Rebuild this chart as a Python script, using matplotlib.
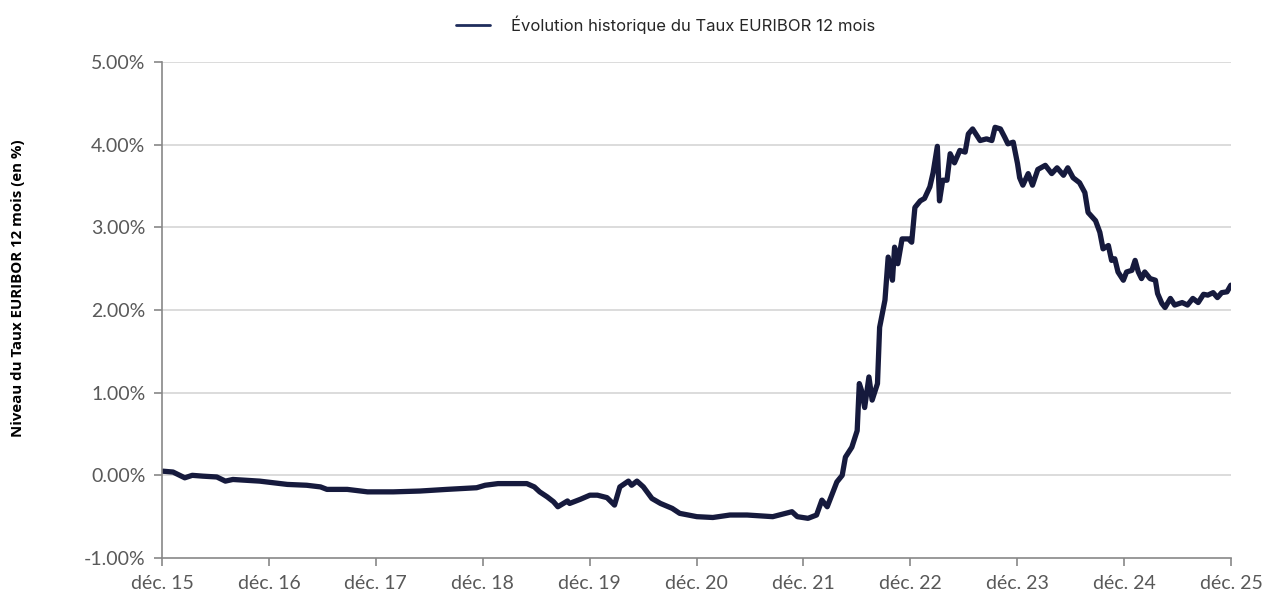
import matplotlib.pyplot as plt
import numpy as np
from matplotlib.ticker import FuncFormatter

# dates as decimal years, values in %
years = [2015.926, 2016.02, 2016.13, 2016.20, 2016.30, 2016.43, 2016.51, 2016.58, 2016.83,
         2017.09, 2017.27, 2017.40, 2017.46, 2017.65, 2017.84, 2018.08, 2018.33, 2018.58,
         2018.86, 2018.94, 2019.06, 2019.20, 2019.33, 2019.40, 2019.45, 2019.52, 2019.58,
         2019.62, 2019.71, 2019.73, 2019.83, 2019.92, 2019.99, 2020.08, 2020.15, 2020.20,
         2020.28, 2020.31, 2020.36, 2020.42, 2020.50, 2020.58, 2020.69, 2020.76, 2020.92,
         2021.07, 2021.23, 2021.39, 2021.63, 2021.81, 2021.86, 2021.96, 2022.04, 2022.09,
         2022.14, 2022.23, 2022.28, 2022.31, 2022.33, 2022.37, 2022.42, 2022.44, 2022.46,
         2022.49, 2022.53, 2022.56, 2022.61, 2022.63, 2022.68, 2022.71, 2022.75, 2022.77,
         2022.80, 2022.84, 2022.90, 2022.93, 2022.96, 2023.01, 2023.05, 2023.10, 2023.13,
         2023.17, 2023.19, 2023.22, 2023.26, 2023.29, 2023.33, 2023.38, 2023.43, 2023.46,
         2023.50, 2023.57, 2023.63, 2023.68, 2023.71, 2023.76, 2023.80, 2023.83, 2023.88,
         2023.92, 2023.94, 2023.97, 2024.02, 2024.06, 2024.11, 2024.18, 2024.24, 2024.29,
         2024.35, 2024.39, 2024.44, 2024.50, 2024.55, 2024.58, 2024.65, 2024.69, 2024.72,
         2024.77, 2024.80, 2024.83, 2024.86, 2024.91, 2024.94, 2024.99, 2025.02, 2025.05,
         2025.08, 2025.11, 2025.16, 2025.21, 2025.23, 2025.27, 2025.30, 2025.35, 2025.39,
         2025.46, 2025.51, 2025.56, 2025.61, 2025.66, 2025.70, 2025.75, 2025.79, 2025.83,
         2025.88, 2025.915]
euribor = [0.05, 0.04, -0.03, 0.0, -0.01, -0.02, -0.07, -0.05, -0.07,
           -0.11, -0.12, -0.14, -0.17, -0.17, -0.20, -0.20, -0.19, -0.17,
           -0.15, -0.12, -0.10, -0.10, -0.10, -0.14, -0.20, -0.26, -0.32,
           -0.38, -0.31, -0.34, -0.29, -0.24, -0.24, -0.27, -0.36, -0.14,
           -0.07, -0.12, -0.07, -0.14, -0.28, -0.34, -0.40, -0.46, -0.50,
           -0.51, -0.48, -0.48, -0.50, -0.44, -0.50, -0.52, -0.48, -0.30,
           -0.38, -0.08, 0.0, 0.22, 0.26, 0.34, 0.54, 1.11, 1.03,
           0.82, 1.19, 0.91, 1.11, 1.79, 2.12, 2.64, 2.36, 2.76,
           2.56, 2.86, 2.86, 2.82, 3.24, 3.32, 3.35, 3.49, 3.66,
           3.98, 3.32, 3.57, 3.57, 3.89, 3.78, 3.93, 3.91, 4.13,
           4.19, 4.05, 4.07, 4.05, 4.21, 4.19, 4.09, 4.01, 4.03,
           3.77, 3.60, 3.51, 3.65, 3.51, 3.70, 3.75, 3.65, 3.72,
           3.63, 3.72, 3.60, 3.54, 3.42, 3.18, 3.08, 2.94, 2.74,
           2.78, 2.60, 2.62, 2.46, 2.36, 2.46, 2.48, 2.60, 2.46,
           2.38, 2.46, 2.38, 2.36, 2.20, 2.08, 2.03, 2.14, 2.06,
           2.09, 2.06, 2.14, 2.09, 2.19, 2.18, 2.21, 2.15, 2.21,
           2.22, 2.30]

tick_years = [2015.917 + k for k in range(11)]
tick_labels = ['déc. %02d' % (15 + k) for k in range(11)]
y_ticks = [-1, 0, 1, 2, 3, 4, 5]

fig = plt.figure(figsize=(12.69, 5.98), dpi=100)
ax = fig.add_axes([162 / 1269, 1 - 558 / 598, (1231 - 162) / 1269, (558 - 62) / 598])

ax.plot(years, euribor, color='#161a3d', lw=3.8, solid_joinstyle='round',
        solid_capstyle='round', label='Évolution historique du Taux EURIBOR 12 mois')

ax.set_xlim(tick_years[0], tick_years[-1])
ax.set_ylim(-1, 5)
ax.set_xticks(tick_years)
ax.set_xticklabels(tick_labels)
ax.set_yticks(y_ticks)
ax.yaxis.set_major_formatter(FuncFormatter(lambda v, p: '%.2f%%' % v))

for v in y_ticks[1:]:
    ax.axhline(v, color='#d9d9d9', lw=1.3, zorder=0)

for s in ['top', 'right']:
    ax.spines[s].set_visible(False)
for s in ['left', 'bottom']:
    ax.spines[s].set_color('#878787')
    ax.spines[s].set_linewidth(1.2)

ax.tick_params(axis='both', direction='out', length=6, width=1.2, color='#878787',
               labelcolor='#595959', labelsize=14)
ax.tick_params(axis='x', pad=6)
ax.tick_params(axis='y', pad=6)
for lab in ax.get_xticklabels() + ax.get_yticklabels():
    lab.set_family(['Lato', 'DejaVu Sans'])

fig.text(18 / 1269, 1 - 288 / 598, 'Niveau du Taux EURIBOR 12 mois (en %)', rotation=90,
         ha='center', va='center', fontsize=10.8, fontweight='bold', color='#000000',
         family=['Open Sans', 'DejaVu Sans'])

leg = fig.legend(loc='center', bbox_to_anchor=(666 / 1269, 1 - 25 / 598), frameon=False,
                 handlelength=2.0, handletextpad=1.3,
                 prop={'family': ['Inter', 'DejaVu Sans'], 'size': 12})
for h in leg.get_lines():
    h.set_color('#1f2d5c')
    h.set_linewidth(2)
for t in leg.get_texts():
    t.set_color('#262626')

fig.savefig('out.png', dpi=100)
